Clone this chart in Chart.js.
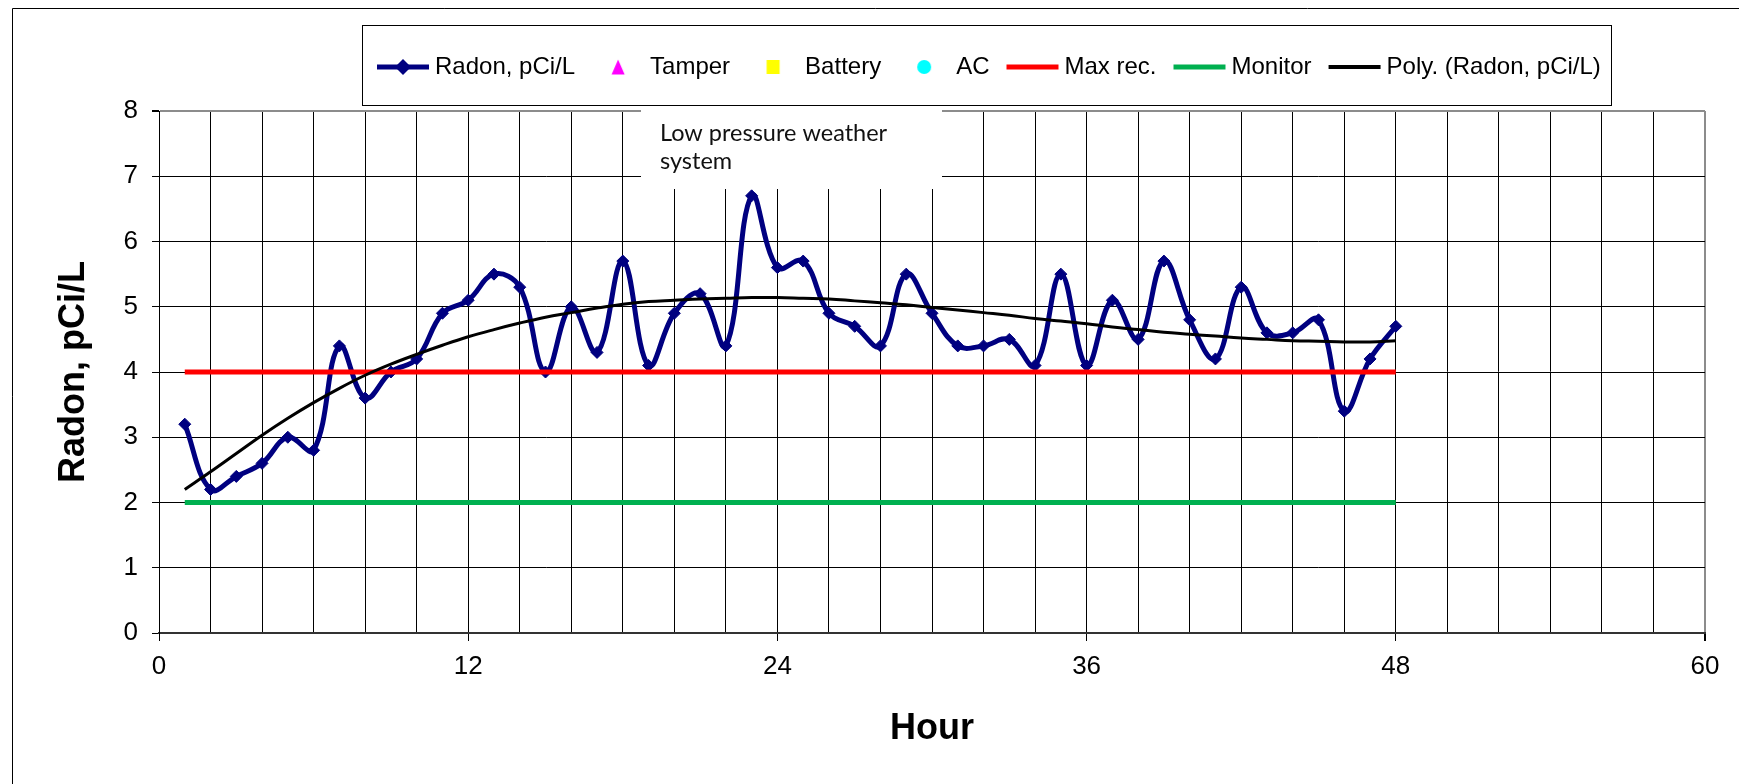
<!DOCTYPE html>
<html>
<head>
<meta charset="utf-8">
<title>Radon, pCi/L by hour</title>
<script src="https://cdn.jsdelivr.net/npm/chart.js@4.4.1/dist/chart.umd.min.js"></script>
<style>
  html, body { margin: 0; padding: 0; background: #fff; }
  #wrap { width: 1739px; height: 784px; position: relative; }
</style>
</head>
<body>
<div id="wrap"><canvas id="radonChart"></canvas></div>
<script>
// hourly readings
const hours = [1, 2, 3, 4, 5, 6, 7, 8, 9, 10, 11, 12, 13, 14, 15, 16, 17, 18, 19, 20, 21, 22, 23, 24,
               25, 26, 27, 28, 29, 30, 31, 32, 33, 34, 35, 36, 37, 38, 39, 40, 41, 42, 43, 44, 45, 46, 47, 48];
const radon = [3.2, 2.2, 2.4, 2.6, 3.0, 2.8, 4.4, 3.6, 4.0, 4.2, 4.9, 5.1, 5.5, 5.3, 4.0, 5.0, 4.3, 5.7, 4.1, 4.9, 5.2, 4.4, 6.7, 5.6,
               5.7, 4.9, 4.7, 4.4, 5.5, 4.9, 4.4, 4.4, 4.5, 4.1, 5.5, 4.1, 5.1, 4.5, 5.7, 4.8, 4.2, 5.3, 4.6, 4.6, 4.8, 3.4, 4.2, 4.7];
// polynomial trendline as drawn in the original
const polyTrend = [2.20, 2.47, 2.75, 3.03, 3.29, 3.53, 3.75, 3.95, 4.12, 4.27, 4.41, 4.54, 4.65, 4.75, 4.84, 4.91, 4.98, 5.04, 5.08, 5.10, 5.12, 5.13, 5.14, 5.14,
                   5.13, 5.12, 5.09, 5.06, 5.03, 4.99, 4.95, 4.91, 4.87, 4.82, 4.78, 4.74, 4.69, 4.65, 4.61, 4.58, 4.55, 4.52, 4.50, 4.48, 4.47, 4.46, 4.46, 4.48];
const maxRecLevel = 4;
const monitorLevel = 2;
const xTickLabels = [0, 12, 24, 36, 48, 60];

const FONT = 'Arial, "Liberation Sans", sans-serif';
Chart.defaults.font.family = FONT;
Chart.defaults.color = '#000';

function pts(ys) {
  return hours.map((h, i) => ({ x: h, y: ys[i] }));
}
function level(v) {
  return hours.map(h => ({ x: h, y: v }));
}

// small canvases used as legend symbols
function icon(draw) {
  const c = document.createElement('canvas');
  c.width = 54; c.height = 22;
  draw(c.getContext('2d'));
  return c;
}
function lineIcon(color, width, marker) {
  return icon(g => {
    g.strokeStyle = color; g.lineWidth = width;
    g.beginPath(); g.moveTo(1, 11); g.lineTo(53, 11); g.stroke();
    if (marker) {
      g.fillStyle = color;
      g.beginPath(); g.moveTo(27, 3); g.lineTo(35, 11); g.lineTo(27, 19); g.lineTo(19, 11); g.closePath(); g.fill();
    }
  });
}
function markIcon(color, shape) {
  return icon(g => {
    g.fillStyle = color;
    g.beginPath();
    if (shape === 'triangle') { g.moveTo(27, 3.5); g.lineTo(33.5, 18.5); g.lineTo(20.5, 18.5); g.closePath(); }
    else if (shape === 'rect') { g.rect(20.5, 4, 13, 14); }
    else { g.arc(27, 11, 7, 0, Math.PI * 2); }
    g.fill();
  });
}

const extras = {
  id: 'extras',
  beforeDraw(chart) {
    const ctx = chart.ctx;
    ctx.save();
    ctx.fillStyle = '#fff';
    ctx.fillRect(0, 0, chart.width, chart.height);
    ctx.restore();
  },
  afterLayout(chart) {
    // legend row sits right of centre in the original
    const lg = chart.legend;
    if (!lg || !lg.lineWidths) return;
    const pad = lg.options.labels.padding;
    const start = (lg.left + pad + lg.right - lg.lineWidths[0]) / 2;
    const dx = 383 - start;
    lg.left += dx; lg.right += dx;
  },
  afterDraw(chart) {
    const ctx = chart.ctx;
    ctx.save();
    // legend frame
    const hb = chart.legend.legendHitBoxes;
    const a = hb[0], b = hb[hb.length - 1];
    const l = Math.round(a.left - 21) + 0.5, t = 25.5;
    const r = Math.round(b.left + b.width + 10) + 0.5, btm = 105.5;
    ctx.strokeStyle = '#000'; ctx.lineWidth = 1;
    ctx.strokeRect(l, t, r - l, btm - t);
    // outer chart frame (cropped)
    ctx.beginPath(); ctx.moveTo(12.5, chart.height); ctx.lineTo(12.5, 8.5); ctx.lineTo(chart.width, 8.5); ctx.stroke();
    // text box
    ctx.fillStyle = '#fff';
    ctx.fillRect(641, 108, 301, 81);
    ctx.fillStyle = '#111';
    ctx.font = '23.5px Lato, "Open Sans", sans-serif';
    ctx.textBaseline = 'alphabetic';
    ctx.fillText('Low pressure weather', 660, 141);
    ctx.fillText('system', 660, 169);
    ctx.restore();
  }
};

const isTop = c => c.tick && c.tick.value === 8;
const isRight = c => c.tick && c.tick.value === 60;

new Chart(document.getElementById('radonChart'), {
  type: 'line',
  data: {
    datasets: [
      { label: 'Radon, pCi/L', data: pts(radon), order: 6, icon: lineIcon('#000080', 5, true),
        borderColor: '#000080', backgroundColor: '#000080', borderWidth: 5, tension: 0.4,
        pointStyle: 'rectRot', pointRadius: 6, pointBorderWidth: 1, borderJoinStyle: 'round' },
      { label: 'Tamper', data: [], order: 5, icon: markIcon('#FF00FF', 'triangle'),
        borderColor: '#FF00FF', backgroundColor: '#FF00FF', showLine: false, pointStyle: 'triangle' },
      { label: 'Battery', data: [], order: 4, icon: markIcon('#FFFF00', 'rect'),
        borderColor: '#FFFF00', backgroundColor: '#FFFF00', showLine: false, pointStyle: 'rect' },
      { label: 'AC', data: [], order: 3, icon: markIcon('#00FFFF', 'circle'),
        borderColor: '#00FFFF', backgroundColor: '#00FFFF', showLine: false, pointStyle: 'circle' },
      { label: 'Max rec.', data: level(maxRecLevel), order: 2, icon: lineIcon('#FF0000', 5),
        borderColor: '#FF0000', borderWidth: 5, pointRadius: 0 },
      { label: 'Monitor', data: level(monitorLevel), order: 1, icon: lineIcon('#00B050', 5),
        borderColor: '#00B050', borderWidth: 5, pointRadius: 0 },
      { label: 'Poly. (Radon, pCi/L)', data: pts(polyTrend), order: 0, icon: lineIcon('#000', 4),
        borderColor: '#000', borderWidth: 3, pointRadius: 0, tension: 0.4 }
    ]
  },
  options: {
    responsive: true,
    maintainAspectRatio: false,
    devicePixelRatio: 1,
    animation: false,
    layout: { padding: { top: 32, left: 0, right: 34, bottom: 0 } },
    plugins: {
      tooltip: { enabled: false },
      // empty spacer between legend and plot
      title: { display: true, text: '', weight: 100, padding: { top: 0, bottom: 20 }, font: { size: 2, lineHeight: 1 } },
      legend: {
        position: 'top',
        labels: {
          usePointStyle: true,
          pointStyleWidth: 40,
          padding: 23,
          color: '#000',
          font: { size: 24 },
          generateLabels: chart => chart.data.datasets.map((ds, i) => ({
            text: ds.label, pointStyle: ds.icon, datasetIndex: i, hidden: false,
            fontColor: '#000', fillStyle: 'rgba(0,0,0,0)', strokeStyle: 'rgba(0,0,0,0)', lineWidth: 0
          }))
        }
      }
    },
    scales: {
      x: {
        type: 'linear', min: 0, max: 60,
        afterFit: s => { s.height = 151; },
        ticks: {
          stepSize: 2, maxTicksLimit: 100, autoSkip: false, maxRotation: 0, padding: 10,
          color: '#000', font: { size: 26 },
          callback: v => xTickLabels.includes(v) ? v : ''
        },
        grid: {
          color: c => isRight(c) ? '#8c8c8c' : '#000',
          lineWidth: c => isRight(c) ? 2 : 1,
          tickLength: 8,
          tickColor: c => c.tick && xTickLabels.includes(c.tick.value) ? '#000' : 'rgba(0,0,0,0)'
        },
        border: { color: '#333', width: 2 },
        title: { display: true, text: 'Hour', color: '#000', font: { size: 36, weight: 'bold', lineHeight: 1 }, padding: { top: 0, bottom: 37 } }
      },
      y: {
        min: 0, max: 8,
        afterFit: s => { s.width = 159; },
        ticks: { stepSize: 1, padding: 14, color: '#000', font: { size: 26 } },
        grid: {
          color: c => isTop(c) ? '#8c8c8c' : '#000',
          lineWidth: c => isTop(c) ? 2 : 1,
          tickLength: 7,
          tickColor: '#000'
        },
        border: { color: '#000', width: 1 },
        title: { display: true, text: 'Radon, pCi/L', color: '#000', font: { size: 36, weight: 'bold', lineHeight: 1 }, padding: { top: 56, bottom: 0 } }
      }
    }
  },
  plugins: [extras]
});
</script>
</body>
</html>
